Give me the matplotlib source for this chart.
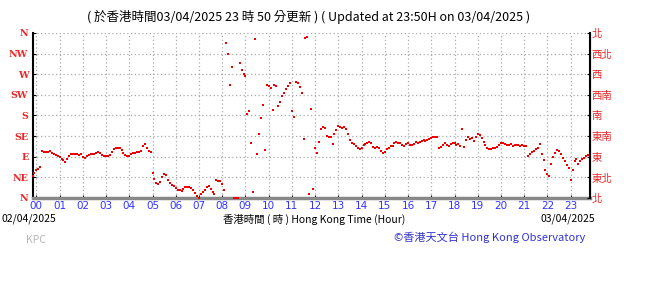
import numpy as np
import matplotlib
matplotlib.use("Agg")
import matplotlib.pyplot as plt

plt.rcParams['font.family'] = ['Noto Sans CJK TC', 'DejaVu Sans']

# wind direction (degrees), 5-minute readings from 23:50 (previous day) to 23:50
direction = [
    47, 55,                                                    # 23:50-23:55
    60, 64, 68, 103, 101, 100, 101, 102, 99, 96, 94, 92,       # 00
    90, 86, 82, 79, 84, 91, 95, 95, 96, 95, 94, 95,            # 01
    90, 88, 92, 94, 96, 95, 96, 98, 100, 98, 94, 92,           # 02
    91, 92, 93, 100, 107, 109, 108, 110, 104, 99, 94, 91,      # 03
    92, 95, 98, 99, 101, 100, 103, 113, 117, 108, 102, 100,    # 04
    55, 42, 33, 31, 34, 45, 52, 50, 40, 33, 29, 26,            # 05
    21, 18, 17, 16, 20, 24, 23, 25, 22, 17, 10, 5,             # 06
    1, 8, 13, 18, 23, 27, 20, 12, 8, 40, 36, 38,               # 07
    30, 18, 338, 314, 247, 286, 0, 1, 0, 295, 280, 270,        # 08
    266, 183, 190, 120, 12, 346, 95, 140, 175, 203, 104, 246,  # 09
    244, 241, 193, 247, 244, 200, 210, 222, 230, 238, 245, 250,  # 10
    189, 176, 254, 250, 243, 229, 128, 348, 352, 8, 195, 20,   # 11
    110, 98, 122, 150, 155, 153, 135, 132, 133, 118, 140, 148, # 12
    156, 154, 153, 155, 150, 140, 126, 120, 117, 114, 110, 106,  # 13
    110, 115, 118, 121, 123, 119, 112, 109, 112, 108, 103, 99, # 14
    100, 106, 110, 113, 114, 120, 123, 121, 119, 116, 114, 118,  # 15
    120, 116, 115, 118, 122, 121, 123, 124, 126, 125, 127, 128,  # 16
    130, 132, 133, 134, 110, 112, 115, 119, 116, 113, 117, 121,  # 17
    120, 115, 118, 114, 150, 112, 127, 133, 128, 131, 124, 134,  # 18
    140, 138, 130, 122, 116, 110, 106, 107, 109, 108, 112, 116,  # 19
    119, 120, 118, 116, 115, 117, 114, 116, 115, 116, 114, 115,  # 20
    114, 113, 92, 96, 100, 103, 106, 108, 117, 95, 82, 62,     # 21
    52, 49, 75, 90, 98, 104, 102, 96, 88, 80, 72, 66,          # 22
    40, 60, 80, 85, 75, 80, 86, 88, 92, 94, 78,                # 23
]
hours = (np.arange(len(direction)) * 5 - 10) / 60.0

hour_labels = ['%02d' % h for h in range(24)]
dir_labels = ['N', 'NE', 'E', 'SE', 'S', 'SW', 'W', 'NW', 'N']
dir_labels_zh = ['北', '東北', '東', '東南', '南', '西南', '西', '西北', '北']

fig = plt.figure(figsize=(6.5, 2.92), dpi=100)
ax = fig.add_axes([0.05, 0.322, 0.8577, 0.565])

ax.plot(hours, direction, 's', color='#ee0000', markersize=1.9,
        markeredgewidth=0, clip_on=False, zorder=5)

ax.set_xlim(-1/6, 23 + 5/6)
ax.set_ylim(0, 360)
ax.set_xticks(range(24))
ax.set_xticklabels(hour_labels, color='#3333ff', fontsize=7.5,
                   family=['DejaVu Sans'])
ax.set_yticks(range(0, 361, 45))
ax.set_yticklabels(dir_labels, color='#e82828', fontsize=6.8,
                   family=['DejaVu Serif'], fontweight='bold')
ax.tick_params(axis='x', direction='in', length=2, pad=2)
ax.tick_params(axis='y', direction='in', length=2, pad=3)

ax2 = ax.twinx()
ax2.set_ylim(0, 360)
ax2.set_yticks(range(0, 361, 45))
ax2.set_yticklabels(dir_labels_zh, color='#e82828', fontsize=7.5)
ax2.tick_params(axis='y', direction='in', length=2, pad=1)

ax.grid(True, color='#aaaaaa', linestyle=(0, (1, 2)), linewidth=0.9)
ax.spines['top'].set_visible(False)
ax2.spines['top'].set_visible(False)
ax.spines['left'].set_linewidth(1.5)
ax2.spines['right'].set_linewidth(1.5)
ax.spines['bottom'].set_color('#888888')
ax.spines['bottom'].set_linewidth(2.5)
ax2.spines['bottom'].set_visible(False)
ax2.spines['left'].set_visible(False)

fig.text(0.475, 0.943,
         '( 於香港時間03/04/2025 23 時 50 分更新 ) ( Updated at 23:50H on 03/04/2025 )',
         ha='center', va='center', fontsize=9)
fig.text(0.003, 0.25, '02/04/2025', ha='left', va='center', fontsize=7.5)
fig.text(0.483, 0.25, '香港時間 ( 時 ) Hong Kong Time (Hour)', ha='center',
         va='center', fontsize=7.5)
fig.text(0.915, 0.25, '03/04/2025', ha='right', va='center', fontsize=7.5)
fig.text(0.04, 0.178, 'KPC', ha='left', va='center', fontsize=7.5,
         color='#b8b8b8')
fig.text(0.9, 0.188, '©香港天文台 Hong Kong Observatory', ha='right',
         va='center', fontsize=8, color='#3333cc')

fig.savefig('out.png', dpi=100)
